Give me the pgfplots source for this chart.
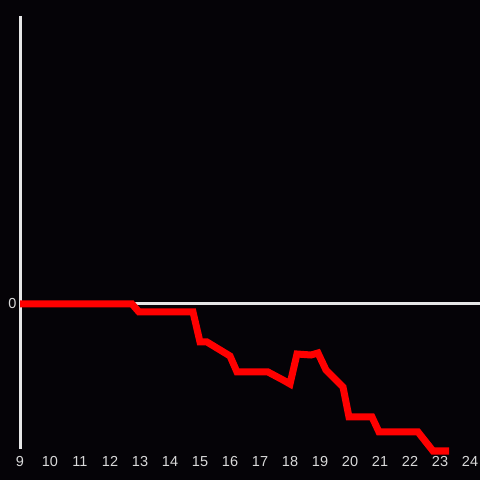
\documentclass[border=0pt]{standalone}
\usepackage{pgfplots}
\pgfplotsset{compat=1.18}
\usepackage{fontspec}
\setmainfont{Liberation Sans}
\definecolor{bg}{HTML}{050307}
\definecolor{ax}{HTML}{E6E6E6}
\definecolor{lbl}{HTML}{D9D9D9}
\definecolor{ln}{HTML}{FF0000}
\begin{document}
\begin{tikzpicture}
\useasboundingbox (0,0) rectangle (480bp,480bp);
\fill[bg] (0,0) rectangle (480bp,480bp);
\begin{axis}[
  at={(20bp,31bp)}, anchor=south west,
  scale only axis, width=460bp, height=433bp,
  xmin=9, xmax=24.3333, ymin=-145, ymax=288,
  axis x line*=bottom, axis y line*=left,
  x axis line style={draw=none},
  y axis line style={ax, line width=3bp},
  xtick={9,...,24}, ytick={0},
  tick style={draw=none},
  ymajorgrids, grid style={ax, line width=3bp},
  ticklabel style={lbl, font=\fontsize{14.5bp}{15bp}\selectfont},
  xticklabel style={yshift=-4bp},
  /pgf/number format/assume math mode=true,
  clip=false,
]
\addplot[ln, line width=7bp, line join=miter] coordinates {
(9.0,0) (12.733,0) (12.967,-8) (14.767,-8) (15.0,-38) (15.233,-38)
(16.0,-52) (16.233,-68) (17.267,-68) (17.767,-76) (18.0,-80)
(18.233,-50) (18.7,-51) (18.933,-49) (19.2,-66) (19.767,-83)
(19.967,-113) (20.733,-113) (20.967,-128) (22.267,-128)
(22.767,-147) (23.3,-147)
};
\end{axis}
\end{tikzpicture}
\end{document}
